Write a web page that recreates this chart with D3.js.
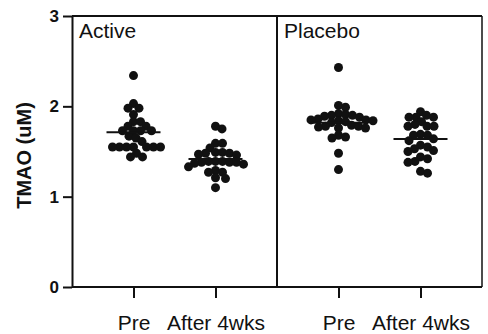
<!DOCTYPE html>
<html>
<head>
<meta charset="utf-8">
<script src="https://cdn.jsdelivr.net/npm/d3@7"></script>
<style>
  body { margin: 0; background: #fff; }
  svg { display: block; font-family: "Liberation Sans", Arial, sans-serif; }
</style>
</head>
<body>
<svg id="chart"></svg>
<script>
// Chart size and margins
const width = 488, height = 334;
const margin = { top: 16, right: 6, bottom: 47, left: 72 };

// Categories and tick labels
const panels = ["Active", "Placebo"];
const timepoints = ["Pre", "After 4wks"];
const yTicks = [0, 1, 2, 3];

// TMAO values (uM)
const activePre = [2.34, 2.03, 1.98, 1.98, 1.91, 1.83, 1.83, 1.78, 1.78, 1.73, 1.73, 1.73, 1.73,
                   1.67, 1.65, 1.61, 1.55, 1.55, 1.55, 1.55, 1.55, 1.55, 1.55, 1.48, 1.44, 1.44];
const activeAfter = [1.78, 1.75, 1.59, 1.59, 1.54, 1.49, 1.49, 1.48, 1.48, 1.47, 1.46, 1.39, 1.39,
                     1.39, 1.38, 1.38, 1.38, 1.37, 1.36, 1.33, 1.29, 1.27, 1.27, 1.21, 1.20, 1.10];
const placeboPre = [2.43, 2.01, 1.99, 1.92, 1.91, 1.90, 1.90, 1.89, 1.88, 1.86, 1.85, 1.85, 1.84, 1.84,
                    1.83, 1.82, 1.79, 1.78, 1.78, 1.77, 1.76, 1.76, 1.68, 1.66, 1.65, 1.48, 1.30];
const placeboAfter = [1.94, 1.90, 1.88, 1.88, 1.88, 1.83, 1.80, 1.78, 1.78, 1.78, 1.69, 1.68, 1.68,
                      1.64, 1.62, 1.57, 1.55, 1.53, 1.51, 1.50, 1.44, 1.42, 1.39, 1.38, 1.28, 1.26];

const groups = [
  { panel: "Active", time: "Pre", values: activePre },
  { panel: "Active", time: "After 4wks", values: activeAfter },
  { panel: "Placebo", time: "Pre", values: placeboPre },
  { panel: "Placebo", time: "After 4wks", values: placeboAfter }
];

const svg = d3.select("#chart")
  .attr("width", width)
  .attr("height", height);

// Scales
const y = d3.scaleLinear().domain([0, 3]).range([height - margin.bottom, margin.top]);
const xPanel = d3.scaleBand().domain(panels).range([margin.left, width - margin.right]);
const xTime = d3.scalePoint().domain(timepoints).range([0, xPanel.bandwidth()]).padding(0.75);

const cx = d => xPanel(d.panel) + xTime(d.time);

// Simple beeswarm: push each dot sideways until it no longer sits on a placed one
function swarm(values, minDist) {
  const pts = values.map(v => ({ v, py: y(v), dx: 0 })).sort((a, b) => a.py - b.py);
  const placed = [];
  pts.forEach(p => {
    for (let k = 0; k < 200; k++) {
      const off = k === 0 ? 0 : (k % 2 ? 1 : -1) * Math.ceil(k / 2) * 0.5;
      const hit = placed.some(q => {
        const ddx = q.dx - off, ddy = q.py - p.py;
        return ddx * ddx + ddy * ddy < minDist * minDist;
      });
      if (!hit) { p.dx = off; break; }
    }
    placed.push(p);
  });
  return pts;
}

// Frame: borders and the panel divider
const frame = svg.append("g").attr("stroke", "#111").attr("fill", "none");
frame.append("line")
  .attr("x1", margin.left).attr("x2", width - margin.right)
  .attr("y1", y(3)).attr("y2", y(3)).attr("stroke-width", 2);
frame.append("line")
  .attr("x1", width - margin.right).attr("x2", width - margin.right)
  .attr("y1", y(3)).attr("y2", y(0)).attr("stroke-width", 1.5);
frame.append("line")
  .attr("x1", xPanel("Placebo")).attr("x2", xPanel("Placebo"))
  .attr("y1", y(3)).attr("y2", y(0)).attr("stroke-width", 2);

// Y axis
const yAxis = svg.append("g")
  .attr("transform", `translate(${margin.left},0)`)
  .call(d3.axisLeft(y).tickValues(yTicks).tickFormat(d3.format("d")).tickSize(9).tickSizeOuter(0).tickPadding(4));
yAxis.selectAll("path, line").attr("stroke", "#111").attr("stroke-width", 2);
yAxis.selectAll("text")
  .attr("fill", "#111")
  .style("font-size", "17px")
  .style("font-weight", "bold")
  .style("font-family", "'Liberation Sans', Arial, sans-serif");

// X axis (one per panel)
panels.forEach(p => {
  const g = svg.append("g")
    .attr("transform", `translate(${xPanel(p)},${y(0)})`)
    .call(d3.axisBottom(xTime).tickSize(11).tickSizeOuter(0).tickPadding(17));
  g.select(".domain").attr("d", `M0,0H${xPanel.bandwidth()}`);
  g.selectAll("path, line").attr("stroke", "#111").attr("stroke-width", 2);
  g.selectAll("text")
    .attr("fill", "#111")
    .style("font-size", "21px")
    .style("font-family", "'Liberation Sans', Arial, sans-serif");
});

// Y axis title
svg.append("text")
  .attr("transform", `translate(31,${(y(0) + y(3)) / 2 + 4}) rotate(-90)`)
  .attr("text-anchor", "middle")
  .attr("fill", "#111")
  .style("font-size", "20px")
  .style("font-weight", "bold")
  .text("TMAO (uM)");

// Panel titles
svg.selectAll(".panel-title")
  .data(panels)
  .enter()
  .append("text")
  .attr("class", "panel-title")
  .attr("x", d => xPanel(d) + 7)
  .attr("y", 38)
  .attr("fill", "#111")
  .style("font-size", "21px")
  .text(d => d);

// Dots and mean lines
groups.forEach(gr => {
  const pts = swarm(gr.values, 6.8);
  svg.append("g")
    .selectAll("circle")
    .data(pts)
    .enter()
    .append("circle")
    .attr("cx", d => cx(gr) + d.dx)
    .attr("cy", d => d.py)
    .attr("r", 4.5)
    .attr("fill", "#111");

  const m = d3.mean(gr.values);
  svg.append("line")
    .attr("x1", cx(gr) - 27).attr("x2", cx(gr) + 27)
    .attr("y1", y(m)).attr("y2", y(m))
    .attr("stroke", "#111")
    .attr("stroke-width", 2);
});
</script>
</body>
</html>
